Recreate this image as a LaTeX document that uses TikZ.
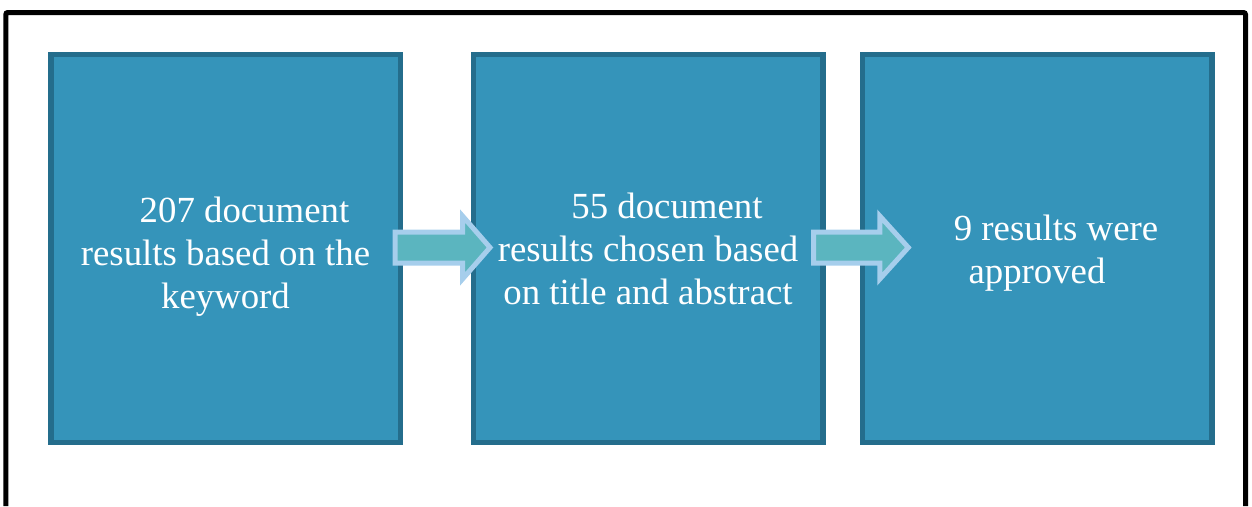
\documentclass[tikz,border=0pt]{standalone}
\usepackage{fontspec}
\setmainfont{Liberation Serif}
\usetikzlibrary{calc}
\definecolor{boxfill}{HTML}{3594BA}
\definecolor{boxedge}{HTML}{246D8C}
\definecolor{arrfill}{HTML}{5BB5BF}
\definecolor{arredge}{HTML}{A6CEEC}
\tikzset{
  stagebox/.style={draw=boxedge, fill=boxfill, line width=5.5pt, inner sep=0pt,
    minimum width=349.5pt, minimum height=388pt, rectangle},
  stagetext/.style={text=white, align=center, inner sep=0pt, anchor=base,
    font=\fontsize{36.8pt}{42.7pt}\selectfont},
  blockarrow/.style={draw=arredge, fill=arrfill, line width=5pt, line join=miter},
  frameline/.style={draw=black, line width=5pt, rounded corners=2pt}
}
\begin{document}
\begin{tikzpicture}[x=1pt,y=-1pt]
\useasboundingbox (0,0) rectangle (1252,506);
\draw[frameline] (5.8,506) -- (5.8,12.5) -- (1245.5,12.5) -- (1245.5,506);

\node[stagebox] (b1) at (225.5,248.5) {};
\node[stagebox] (b2) at (648,248.5) {};
\node[stagebox] (b3) at (1037,248.5) {};

\node[stagetext] (t1) at ($(b1.center)+(0,59.5)$) {\hspace*{38pt}207 document\\results based on the\\keyword};
\node[stagetext] (t2) at ($(b2.center)+(0,55.5)$) {\hspace*{38pt}55 document\\results chosen based\\on title and abstract};
\node[stagetext] (t3) at ($(b3.center)+(0,34.5)$) {\hspace*{38pt}9 results were\\approved};

% block arrows between the stages
\coordinate (a1s) at ($(b1.east)+(-8,-1.5)$);
\coordinate (a2s) at ($(b2.east)+(-12,-1.5)$);
\draw[blockarrow] (a1s) ++(0,-15) -- ++(67.5,0) -- ++(0,-16) -- ++(27.5,31.5) -- ++(-27.5,31.5) -- ++(0,-16) -- ++(-67.5,0) -- cycle;
\draw[blockarrow] (a2s) ++(0,-15) -- ++(66.3,0) -- ++(0,-16) -- ++(28.5,31.5) -- ++(-28.5,31.5) -- ++(0,-16) -- ++(-66.3,0) -- cycle;
\end{tikzpicture}
\end{document}
